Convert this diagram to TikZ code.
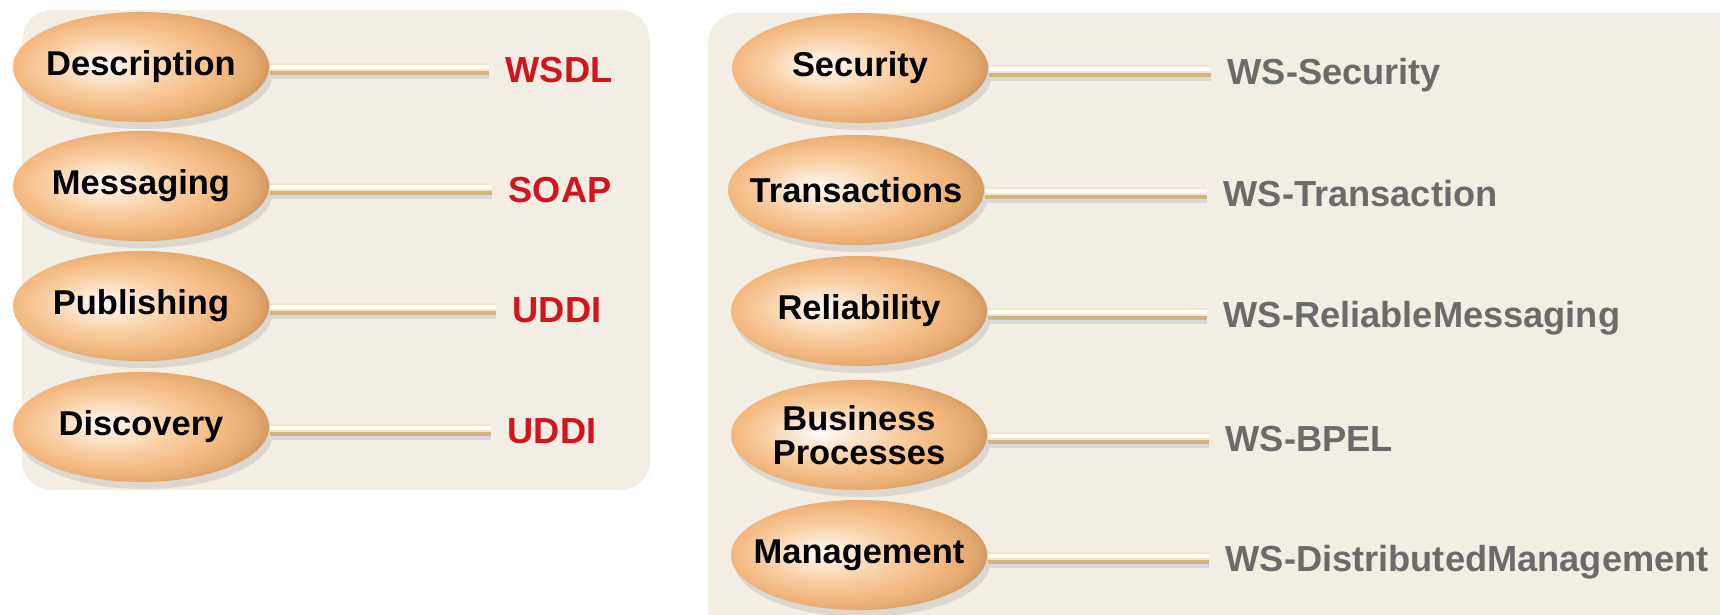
\documentclass[tikz,border=0pt]{standalone}
\usepackage{fontspec}
\setmainfont{Liberation Sans}
\usetikzlibrary{shapes.geometric,shadows}

\definecolor{panelbg}{HTML}{F3EEE4}
\definecolor{wsred}{HTML}{D2141C}
\definecolor{wsgray}{HTML}{6B6B6B}
\definecolor{eggwhite}{HTML}{FFFCF8}
\definecolor{egglight}{HTML}{FCE6CF}
\definecolor{eggmid}{HTML}{F7CB9C}
\definecolor{eggorange}{HTML}{F2B77E}
\definecolor{eggtan}{HTML}{E2A86E}
\definecolor{eggbrown}{HTML}{B8834E}
\definecolor{eggdark}{HTML}{8E5E32}
\definecolor{bartan}{HTML}{D2B47E}
\definecolor{barcream}{HTML}{F3E6CC}
\definecolor{barwhite}{HTML}{FFFDF8}
\definecolor{barshade}{HTML}{D9D9DD}

\pgfdeclareradialshading{egg}{\pgfpoint{-8bp}{1.5bp}}{%
  color(0bp)=(eggwhite); color(6bp)=(egglight); color(14bp)=(eggmid);
  color(21bp)=(eggorange); color(26bp)=(eggtan); color(31bp)=(eggbrown);
  color(45bp)=(eggdark)}

\tikzset{
	% egg shaped topic nodes and the standards they point to
	egg node/.style={ellipse, shading=egg, minimum width=2.56cm, minimum height=1.1cm,
	  inner xsep=-0.3cm, inner ysep=-0.2cm, align=center,
	  font=\bfseries\fontsize{9.8}{9.6}\selectfont,
	  drop shadow={shadow xshift=1pt, shadow yshift=-2pt, opacity=0.2, fill=gray}},
	std red/.style={anchor=west, inner sep=0, text=wsred, text height=7.4pt,
	  text depth=0pt, font=\bfseries\fontsize{10.3}{12}\selectfont},
	std gray/.style={std red, text=wsgray},
	stem bar/.style={draw=bartan, line width=3.4pt, shorten >=0.16cm,
	  preaction={draw=barshade, line width=3.4pt, transform canvas={yshift=-1.2pt}},
	  postaction={draw=barcream, line width=2.2pt, transform canvas={yshift=0.6pt}},
	  postaction={draw=barwhite, line width=1pt, transform canvas={yshift=0.6pt}}}
}

\begin{document}
\begin{tikzpicture}[x=0.01cm, y=-0.01cm]

  \useasboundingbox (0,0) rectangle (1720,614);

  %% background panels
  \fill[panelbg, rounded corners=0.3cm] (22,10) rectangle (650,490);
  \fill[panelbg, rounded corners=0.3cm] (708,13) rectangle (1760,650);

  %% basic stack
  \node(desc) at (141, 67) [egg node]{Description};
  \node(msg) at (141, 186) [egg node]{Messaging};
  \node(pub) at (141, 306) [egg node]{Publishing};
  \node(disc) at (141, 427) [egg node]{Discovery};

  \node(wsdl) at (505, 69) [std red]{WSDL};
  \node(soap) at (508, 189) [std red]{SOAP};
  \node(uddi) at (512, 309) [std red]{UDDI};
  \node(uddi2) at (507, 430) [std red]{UDDI};

  \path[stem bar] (desc.east |- wsdl.west) -- (wsdl.west);
  \path[stem bar] (msg.east |- soap.west) -- (soap.west);
  \path[stem bar] (pub.east |- uddi.west) -- (uddi.west);
  \path[stem bar] (disc.east |- uddi2.west) -- (uddi2.west);

  %% quality of service stack
  \node(sec) at (860, 68) [egg node]{Security};
  \node(trans) at (856, 190) [egg node]{Transactions};
  \node(rel) at (859, 311) [egg node]{Reliability};
  \node(bpm) at (859, 435) [egg node]{Business\\Processes};
  \node(mgmt) at (859, 555) [egg node]{Management};

  \node(wssec) at (1227, 71) [std gray]{WS-Security};
  \node(wstx) at (1223, 193) [std gray]{WS-Transaction};
  \node(wsrm) at (1223, 314) [std gray]{WS-ReliableMessaging};
  \node(bpel) at (1225, 438) [std gray]{WS-BPEL};
  \node(wsdm) at (1225, 558) [std gray]{WS-DistributedManagement};

  \path[stem bar] (sec.east |- wssec.west) -- (wssec.west);
  \path[stem bar] (trans.east |- wstx.west) -- (wstx.west);
  \path[stem bar] (rel.east |- wsrm.west) -- (wsrm.west);
  \path[stem bar] (bpm.east |- bpel.west) -- (bpel.west);
  \path[stem bar] (mgmt.east |- wsdm.west) -- (wsdm.west);

\end{tikzpicture}
\end{document}
